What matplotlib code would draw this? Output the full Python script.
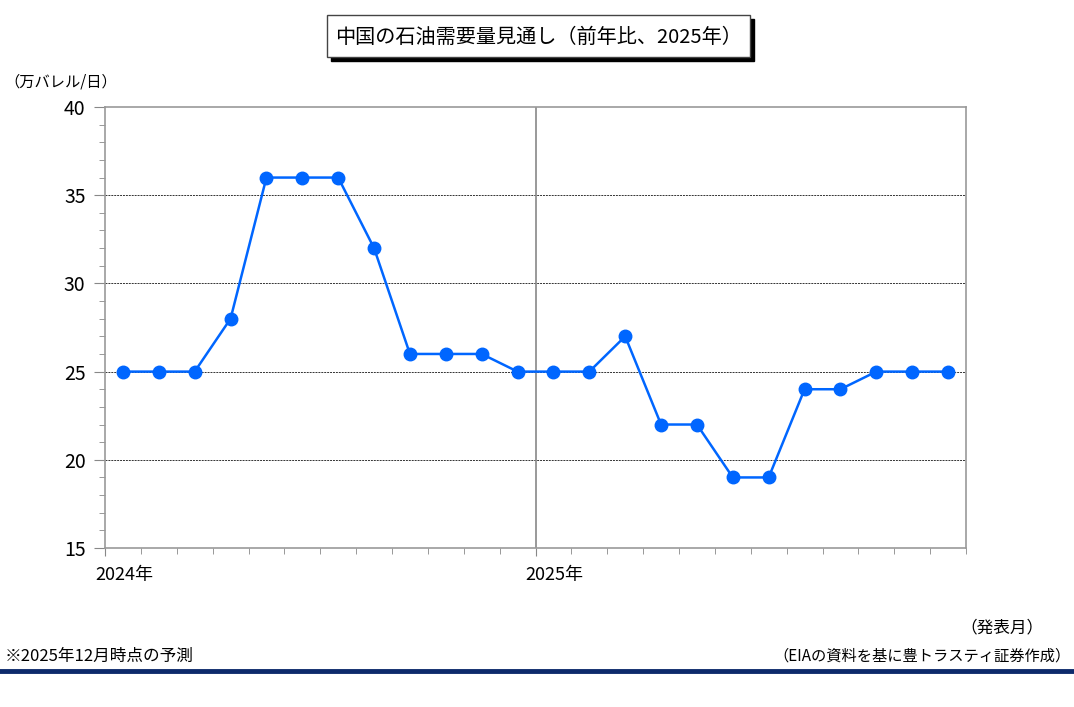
import numpy as np
import matplotlib.pyplot as plt
from matplotlib.patches import Rectangle
from matplotlib.lines import Line2D
from matplotlib.transforms import ScaledTranslation

plt.rcParams['font.family'] = ['Noto Sans CJK JP', 'DejaVu Sans']

# 発表月 (2024年1月〜2025年12月) と需要見通し (前年比、万バレル/日)
months = [f"{y}-{m:02d}" for y in (2024, 2025) for m in range(1, 13)]
demand = [25, 25, 25, 28, 36, 36, 36, 32, 26, 26, 26, 25,
          25, 25, 27, 22, 22, 19, 19, 24, 24, 25, 25, 25]
year_labels = ["2024年", "2025年"]
y_ticks = [15, 20, 25, 30, 35, 40]

fig = plt.figure(figsize=(10.74, 7.07), dpi=100)
ax = fig.add_axes([105 / 1074, 1 - 548 / 707, 861 / 1074, 441 / 707])

x = np.arange(len(months)) + 0.5
ax.plot(x, demand, color="#0066ff", lw=1.8, marker="o", ms=9, zorder=3)

ax.set_xlim(0, len(months))
ax.set_ylim(15, 40)
ax.set_yticks(y_ticks)
ax.set_yticks(np.arange(15, 41, 1), minor=True)
ax.set_xticks([0, 12])
ax.set_xticklabels(year_labels)
ax.set_xticks(np.arange(0, 25, 1), minor=True)

for yv in [20, 25, 30, 35]:
    ax.axhline(yv, color="#333333", lw=0.7, ls=(0, (2, 1)), zorder=1)
ax.axvline(12, color="#888888", lw=1.2, zorder=1)

for s in ax.spines.values():
    s.set_color("#999999")
    s.set_linewidth(1.2)

ax.tick_params(axis="y", which="major", direction="out", length=8, color="#888888",
               labelsize=14, pad=6)
ax.tick_params(axis="y", which="minor", direction="out", length=4, color="#888888")
ax.tick_params(axis="x", which="major", direction="out", length=6, color="#888888",
               labelsize=13, pad=7)
ax.tick_params(axis="x", which="minor", direction="out", length=4, color="#888888")
# 年ラベルは目盛りの少し左から左寄せ
for lab in ax.get_xticklabels():
    lab.set_horizontalalignment("left")
    lab.set_transform(lab.get_transform() + ScaledTranslation(-10 / 100, 0, fig.dpi_scale_trans))

# タイトル (影付きの枠)
fig.patches.append(Rectangle((331 / 1074, 1 - 61 / 707), 423 / 1074, 42 / 707,
                             transform=fig.transFigure, facecolor="black", edgecolor="black"))
fig.patches.append(Rectangle((327 / 1074, 1 - 57 / 707), 423 / 1074, 42 / 707,
                             transform=fig.transFigure, facecolor="white", edgecolor="#444444", lw=1))
fig.text(538 / 1074, 1 - 37 / 707, "中国の石油需要量見通し（前年比、2025年）",
         ha="center", va="center", fontsize=14.5)

fig.text(4 / 1074, 1 - 82 / 707, "（万バレル/日）", ha="left", va="center", fontsize=11)
fig.text(1044 / 1074, 1 - 628 / 707, "（発表月）", ha="right", va="center", fontsize=12)
fig.text(5 / 1074, 1 - 656 / 707, "※2025年12月時点の予測", ha="left", va="center", fontsize=12)
fig.text(1071 / 1074, 1 - 656 / 707, "（EIAの資料を基に豊トラスティ証券作成）",
         ha="right", va="center", fontsize=11)

fig.lines.append(Line2D([0, 1], [1 - 671 / 707, 1 - 671 / 707], transform=fig.transFigure,
                        color="#0d2a6b", lw=3.5))

fig.savefig("out.png", dpi=100)
